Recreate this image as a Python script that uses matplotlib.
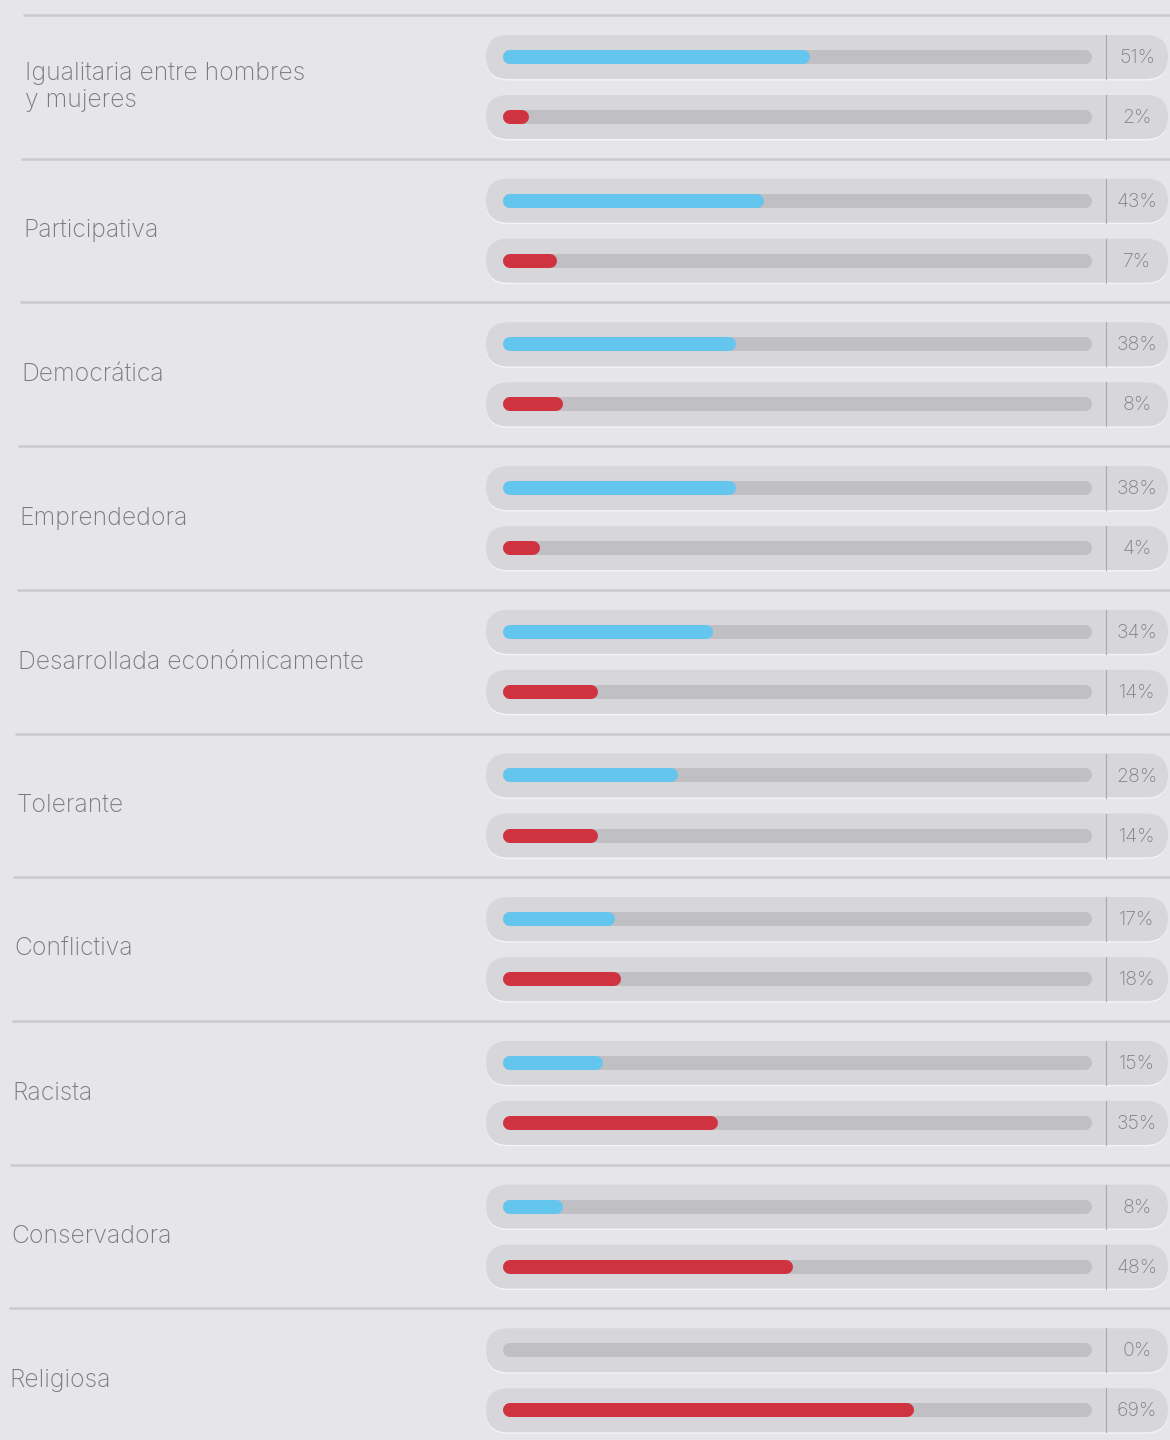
import matplotlib.pyplot as plt
from matplotlib.patches import FancyBboxPatch

# data
labels = [
    "Igualitaria entre hombres\ny mujeres",
    "Participativa",
    "Democrática",
    "Emprendedora",
    "Desarrollada económicamente",
    "Tolerante",
    "Conflictiva",
    "Racista",
    "Conservadora",
    "Religiosa",
]
blue_vals = [51, 43, 38, 38, 34, 28, 17, 15, 8, 0]
red_vals = [2, 7, 8, 4, 14, 14, 18, 35, 48, 69]

# colours
BG = "#e6e5e9"
PILL = "#d7d6da"
TRACK = "#c0bfc4"
SEP = "#cbcacd"
BLUE = "#64c6ee"
RED = "#cf3340"
LABEL = "#7b7a80"
PCT = "#808085"

plt.rcParams["font.family"] = ["Inter", "DejaVu Sans"]

W, H = 1170, 1440
pitch = 143.7   # row height in px
first_sep = 15
fig = plt.figure(figsize=(W / 100, H / 100), dpi=100, facecolor=BG)

# background layer in pixel units for the decoration
bg = fig.add_axes([0, 0, 1, 1])
bg.set_xlim(0, W)
bg.set_ylim(H, 0)
bg.axis("off")

# bar layer: x is the percent scale, y is the row index
track_x0, track_x1 = 510, 1085
ax = fig.add_axes([track_x0 / W, 0, (track_x1 - track_x0) / W, 1])
ax.set_xlim(0, 100)
center0 = first_sep + 72
ax.set_ylim((H - center0) / pitch, -center0 / pitch)
ax.axis("off")
ax.patch.set_alpha(0)

lw = 14 * 72 / 100  # 14 px thick bars
off = 30 / pitch

pill_x0, pill_x1, pill_r = 486, 1168, 22
for i, lab in enumerate(labels):
    sep_y = first_sep + pitch * i
    bg.plot([23 - 1.6 * i, W], [sep_y, sep_y], color=SEP, lw=1.8, solid_capstyle="butt")
    cy = center0 + pitch * i
    bg.text(25 - 1.75 * i, cy, lab, ha="left", va="center", fontsize=17.8,
            color=LABEL, linespacing=1.2, fontweight="light")

    for k, (val, col) in enumerate([(blue_vals[i], BLUE), (red_vals[i], RED)]):
        c = cy + (k * 2 - 1) * 30
        # white lip under the pill, then the pill
        bg.add_patch(FancyBboxPatch((pill_x0 + pill_r, c + 1.5), pill_x1 - pill_x0 - 2 * pill_r, 0,
                                    boxstyle=f"round,pad={pill_r}", fc="#f4f4f6", ec="none"))
        bg.add_patch(FancyBboxPatch((pill_x0 + pill_r, c), pill_x1 - pill_x0 - 2 * pill_r, 0,
                                    boxstyle=f"round,pad={pill_r}", fc=PILL, ec="none"))
        bg.plot([1106, 1106], [c - pill_r, c + pill_r], color="#a9a8ad", lw=0.8)
        bg.text(1137, c + 1, f"{val}%", ha="center", va="center", fontsize=14,
                color=PCT, fontweight="light")

        y = i + (k * 2 - 1) * off
        ax.plot([0, 100], [y, y], color=TRACK, lw=lw, solid_capstyle="round", clip_on=False)
        if val > 0:
            ax.plot([0, val], [y, y], color=col, lw=lw, solid_capstyle="round", clip_on=False)

fig.savefig("out.png", dpi=100, facecolor=BG)
